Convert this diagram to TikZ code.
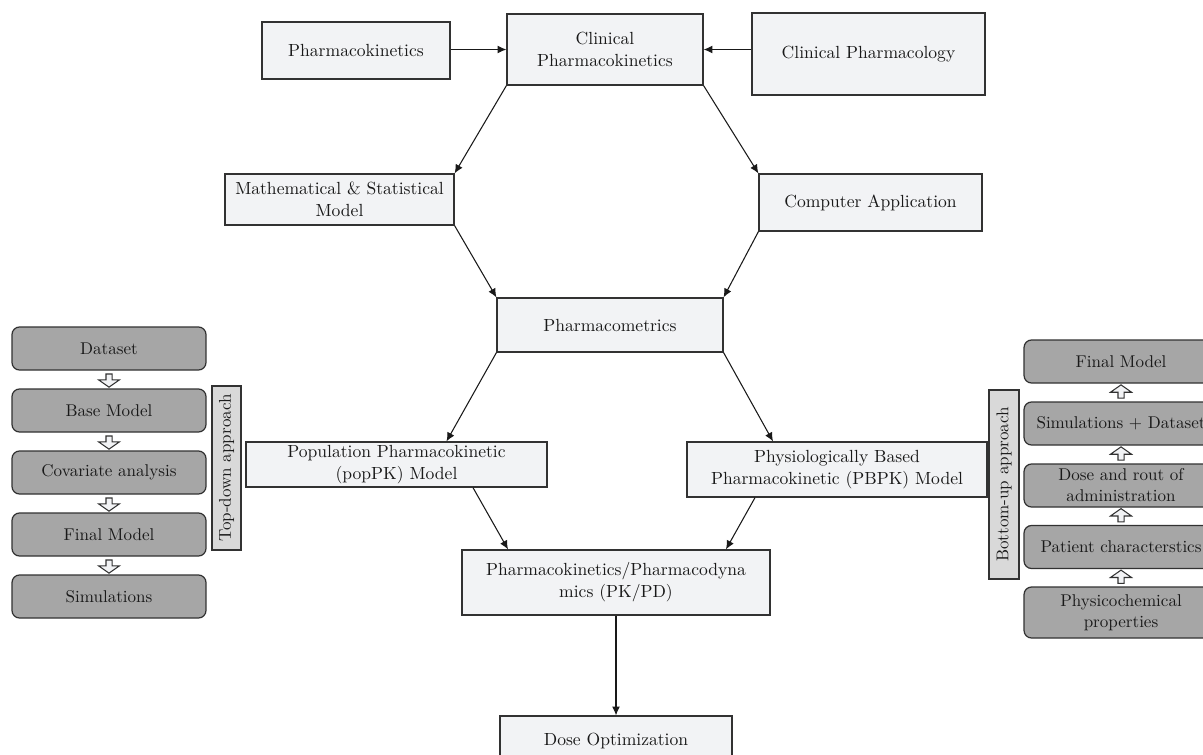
\documentclass[tikz,border=0pt]{standalone}
\usetikzlibrary{arrows.meta,shapes.arrows,calc}
\definecolor{boxfill}{RGB}{242,243,245}
\definecolor{stepfill}{RGB}{166,166,166}
\definecolor{barfill}{RGB}{217,217,217}
\definecolor{edge}{RGB}{50,50,50}
\tikzset{
  box/.style={draw=edge, line width=0.7pt, fill=boxfill, align=center, inner sep=1pt,
    font=\fontsize{10}{12.5}\selectfont, text=black!90},
  stepbox/.style={box, fill=stepfill, rounded corners=0.15cm, minimum width=3.88cm, minimum height=0.86cm,
    font=\fontsize{9.7}{12}\selectfont},
  barbox/.style={box, fill=barfill, rotate=90, font=\fontsize{9.7}{12}\selectfont},
  flow/.style={draw=black!90, line width=0.6pt, -{Latex[length=5pt,width=4.5pt]}},
  hollow/.style={single arrow, draw=edge, line width=0.6pt, fill=boxfill, inner sep=0.1cm,
    inner xsep=0.05cm, single arrow head extend=0.15cm, single arrow tip angle=110}
}
\begin{document}
\begin{tikzpicture}[x=0.02cm,y=-0.02cm]
   \clip (0,0) rectangle (1203,754);
   \fill[white] (0,0) rectangle (1203,754);
   \node[box, minimum width=3.76cm, minimum height=1.14cm] (pk) at (356,50.5) {Pharmacokinetics};
   \node[box, minimum width=3.92cm, minimum height=1.42cm] (cpk) at (605,49.5) {Clinical\\Pharmacokinetics};
   \node[box, minimum width=4.66cm, minimum height=1.64cm] (cpl) at (868.5,54) {Clinical Pharmacology};
   \node[box, minimum width=4.58cm, minimum height=1.02cm] (msm) at (339.5,199.5) {Mathematical \& Statistical\\Model};
   \node[box, minimum width=4.46cm, minimum height=1.14cm] (ca) at (870.5,202.5) {Computer Application};
   \node[box, minimum width=4.52cm, minimum height=1.08cm] (pm) at (610,325) {Pharmacometrics};
   \node[box, minimum width=6.02cm, minimum height=0.9cm] (pop) at (396.5,464.5) {Population Pharmacokinetic\\(popPK) Model};
   \node[box, minimum width=6cm, minimum height=1.1cm] (pbpk) at (837,469.5) {Physiologically Based\\Pharmacokinetic (PBPK) Model};
   \node[box, minimum width=6.16cm, minimum height=1.3cm] (pkpd) at (616,582.5) {Pharmacokinetics/Pharmacodyna\\mics (PK/PD)};
   \node[box, minimum width=4.64cm, minimum height=1cm] (dose) at (616,741) {Dose Optimization};

   \draw[flow] (pk.east |- cpk.west) -- (cpk.west);
   \draw[flow] (cpl.west |- cpk.east) -- (cpk.east);
   \draw[flow] (cpk.south west) -- (msm.north east);
   \draw[flow] (cpk.south east) -- (ca.north west);
   \draw[flow] (msm.south east) -- (pm.north west);
   \draw[flow] (ca.south west) -- (pm.north east);
   \draw[flow] (pm.south west) -- ([xshift=1cm]pop.north);
   \draw[flow] (pm.south east) -- ([xshift=-1.28cm]pbpk.north);
   \draw[flow] ([xshift=1.53cm]pop.south) -- ([xshift=-2.16cm]pkpd.north);
   \draw[flow] ([xshift=-1.64cm]pbpk.south) -- ([xshift=2.2cm]pkpd.north);
   \draw[flow] (pkpd.south) -- (dose.north);

   \node[stepbox] (ds) at (109,348.5) {Dataset};
   \node[stepbox] (bm) at (109,410.5) {Base Model};
   \node[stepbox] (cov) at (109,472.5) {Covariate analysis};
   \node[stepbox] (fml) at (109,534.5) {Final Model};
   \node[stepbox] (sim) at (109,596.5) {Simulations};
   \node[barbox, minimum width=3.28cm, minimum height=0.58cm] (td) at (226.5,468) {Top-down approach};
   \foreach \a/\b in {ds/bm,bm/cov,cov/fml,fml/sim}
      \node[hollow, shape border rotate=270] at ($(\a.south)!0.5!(\b.north)$) {};

   \node[stepbox] (fmr) at (1121,361.5) {Final Model};
   \node[stepbox] (sd) at (1121,423.5) {Simulations + Dataset};
   \node[stepbox] (dr) at (1121,485.5) {Dose and rout of\\administration};
   \node[stepbox] (pc) at (1121,547) {Patient characterstics};
   \node[stepbox, minimum height=1.02cm] (phy) at (1121,612.5) {Physicochemical\\properties};
   \node[barbox, minimum width=3.78cm, minimum height=0.6cm] (bu) at (1004,484.5) {Bottom-up approach};
   \foreach \a/\b in {phy/pc,pc/dr,dr/sd,sd/fmr}
      \node[hollow, shape border rotate=90] at ($(\a.north)!0.5!(\b.south)$) {};
\end{tikzpicture}
\end{document}
